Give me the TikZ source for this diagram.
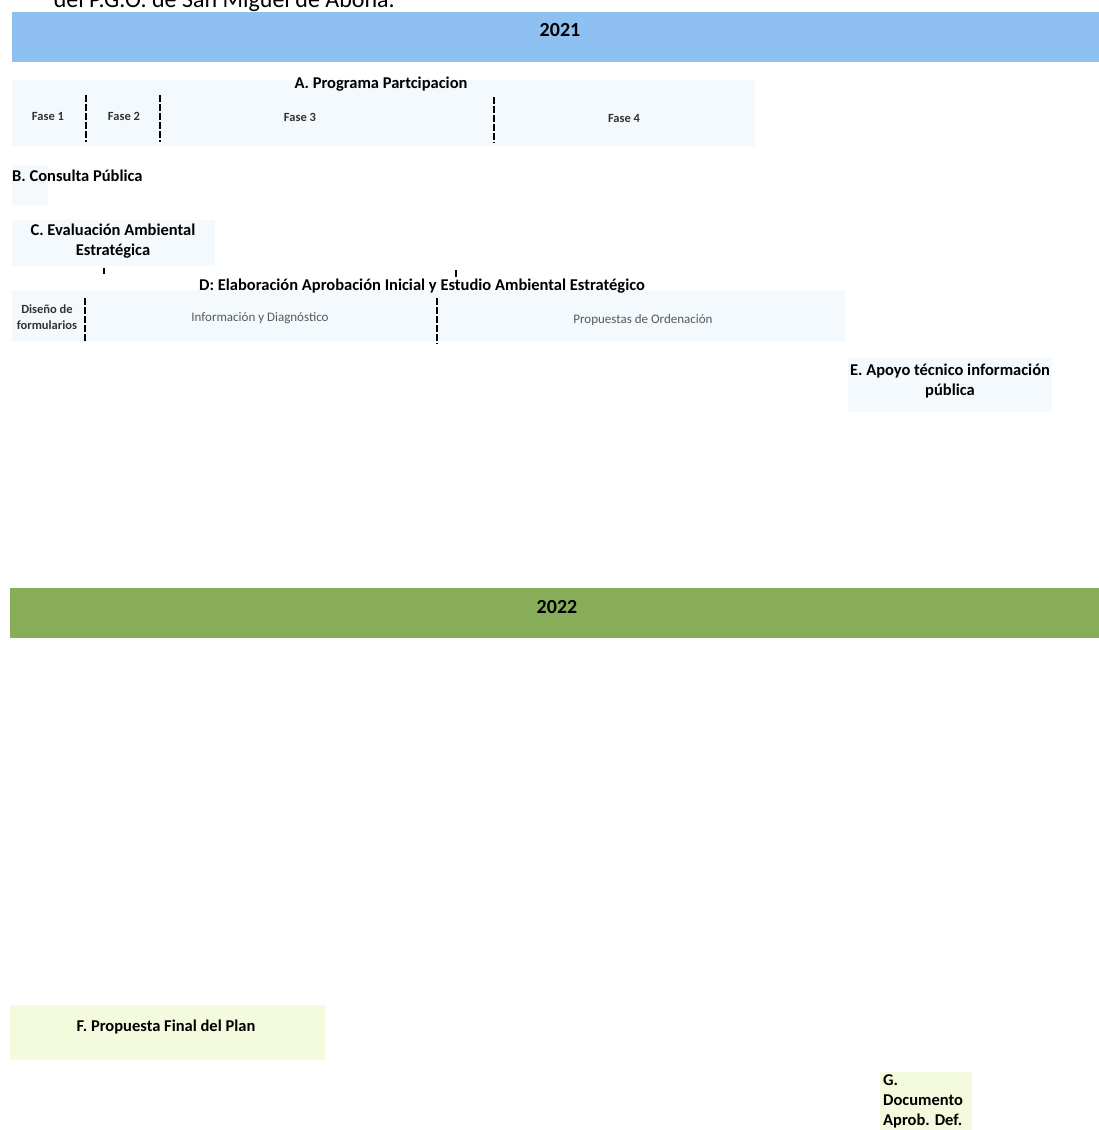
\documentclass[tikz,border=0pt]{standalone}
\usepackage{fontspec}
\setmainfont{Carlito}
\usetikzlibrary{positioning}
\definecolor{azul}{RGB}{142,193,241}
\definecolor{verde}{RGB}{136,173,88}
\definecolor{celeste}{RGB}{243,249,252}
\definecolor{lima}{RGB}{244,250,222}

\begin{document}
\begin{tikzpicture}[x=1pt, y=-1pt,
    anio/.style={font=\bfseries\fontsize{20}{24}\selectfont},
    titulo/.style={font=\bfseries\fontsize{16.5}{20}\selectfont, align=center},
    fase/.style={font=\bfseries\fontsize{12.5}{15}\selectfont, text=black!80},
    tarea/.style={font=\fontsize{13}{15}\selectfont, text=black!65},
    sep/.style={black, line width=2.5pt, dash pattern=on 7pt off 2pt}]
    \useasboundingbox (0,0) rectangle (1099,1130);
    \clip (0,0) rectangle (1099,1130);

    % Encabezado recortado
    \node[anchor=base east, font=\fontsize{24}{28}\selectfont, inner sep=0pt] (cab) at (395,7) {del P.G.O. de San Miguel de Abona.};

    % 2021
    \fill[azul] (12,12) rectangle (1099,62);
    \node[anio] (a2021) at (560,30) {2021};

    % A. Programa de participacion
    \fill[celeste] (12,80) rectangle (755,146);
    \node[titulo] (A) at (381,84) {A. Programa Partcipacion};
    \node[fase] (f1) at (48,116) {Fase 1};
    \node[fase] (f2) at (124,116) {Fase 2};
    \node[fase] (f3) at (300,117) {Fase 3};
    \node[fase] (f4) at (624,118) {Fase 4};
    \draw[sep] (86,95) -- (86,142);
    \draw[sep] (160,95) -- (160,142);
    \draw[sep] (494,97) -- (494,143);

    % B y C
    \fill[celeste] (12,165) rectangle (48,205);
    \node[titulo, anchor=west, inner sep=0pt] (B) at (12,176) {B. Consulta Pública};
    \fill[celeste] (12,220) rectangle (215,266);
    \node[titulo] (C) at (113,241) {C. Evaluación Ambiental\\Estratégica};
    \draw[black, line width=1.5pt] (104,268) -- (104,274);
    \draw[black, line width=1.5pt] (456,270) -- (456,277);

    % D. Aprobacion inicial
    \fill[celeste] (12,290) rectangle (845,342);
    \node[titulo] (D) at (422,286) {D: Elaboración Aprobación Inicial y Estudio Ambiental Estratégico};
    \node[fase, align=center, font=\bfseries\fontsize{12.5}{16}\selectfont] (dis) at (47,317) {Diseño de\\formularios};
    \node[tarea] (inf) at (260,318) {Información y Diagnóstico};
    \node[tarea] (prop) at (643,320) {Propuestas de Ordenación};
    \draw[sep] (85,298) -- (85,342);
    \draw[sep] (437,298) -- (437,344);

    % E. Apoyo tecnico
    \fill[celeste] (848,358) rectangle (1052,412);
    \node[titulo] (E) at (950,381) {E. Apoyo técnico información\\pública};

    % 2022
    \fill[verde] (10,588) rectangle (1099,638);
    \node[anio] (a2022) at (557,607) {2022};

    % F y G
    \fill[lima] (10,1005) rectangle (325,1060);
    \node[titulo] (F) at (166,1027) {F. Propuesta Final del Plan};
    \fill[lima] (880,1072) rectangle (972,1130);
    \node[titulo, align=left, anchor=north west, inner sep=0pt] (G) at (883,1074) {G.\\Documento\\Aprob. Def.};
\end{tikzpicture}
\end{document}
